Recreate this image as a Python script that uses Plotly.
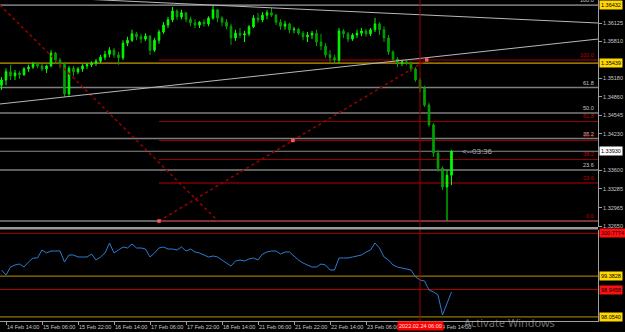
import plotly.graph_objects as go

# ---------------- data (2-hour candles, hour index from 14 Feb 14:00, trading hours only) ----------------
bar_hour = list(range(-2, 201, 2))

opens = [1.3506, 1.3515, 1.3529, 1.3522, 1.3527, 1.3524, 1.3534, 1.3537, 1.3542, 1.3539,
         1.3534, 1.3539, 1.3561, 1.3549, 1.3542, 1.3491, 1.3535, 1.3529, 1.3534, 1.3539,
         1.3541, 1.3544, 1.3547, 1.3554, 1.3559, 1.3566, 1.3558, 1.3553, 1.3578, 1.3583,
         1.3594, 1.3589, 1.3585, 1.3590, 1.3566, 1.3583, 1.3597, 1.3609, 1.3618, 1.3633,
         1.3623, 1.3630, 1.3619, 1.3613, 1.3609, 1.3614, 1.3611, 1.3621, 1.3635, 1.3621,
         1.3614, 1.3607, 1.3587, 1.3595, 1.3592, 1.3594, 1.3606, 1.3621, 1.3618, 1.3626,
         1.3630, 1.3626, 1.3614, 1.3607, 1.3611, 1.3601, 1.3602, 1.3595, 1.3589, 1.3592,
         1.3595, 1.3580, 1.3573, 1.3558, 1.3553, 1.3549, 1.3599, 1.3594, 1.3585, 1.3592,
         1.3595, 1.3599, 1.3594, 1.3601, 1.3611, 1.3601, 1.3587, 1.3563, 1.3551, 1.3544,
         1.3546, 1.3544, 1.3534, 1.3515, 1.3501, 1.3472, 1.3438, 1.3390, 1.3364, 1.3332,
         1.3352]
highs = [1.3520, 1.3535, 1.3541, 1.3532, 1.3530, 1.3537, 1.3541, 1.3546, 1.3546, 1.3544,
         1.3541, 1.3566, 1.3563, 1.3553, 1.3546, 1.3539, 1.3539, 1.3537, 1.3542, 1.3544,
         1.3547, 1.3551, 1.3558, 1.3565, 1.3571, 1.3570, 1.3563, 1.3583, 1.3589, 1.3601,
         1.3597, 1.3594, 1.3595, 1.3592, 1.3587, 1.3601, 1.3614, 1.3623, 1.3640, 1.3636,
         1.3635, 1.3631, 1.3623, 1.3619, 1.3616, 1.3619, 1.3624, 1.3642, 1.3636, 1.3624,
         1.3619, 1.3611, 1.3601, 1.3604, 1.3599, 1.3609, 1.3626, 1.3630, 1.3631, 1.3635,
         1.3638, 1.3628, 1.3619, 1.3616, 1.3613, 1.3606, 1.3604, 1.3599, 1.3597, 1.3599,
         1.3601, 1.3594, 1.3578, 1.3566, 1.3558, 1.3604, 1.3602, 1.3597, 1.3595, 1.3601,
         1.3604, 1.3602, 1.3604, 1.3621, 1.3614, 1.3607, 1.3592, 1.3566, 1.3554, 1.3549,
         1.3549, 1.3547, 1.3537, 1.3518, 1.3505, 1.3476, 1.3441, 1.3395, 1.3367, 1.3361,
         1.3395]
lows = [1.3498, 1.3506, 1.3515, 1.3515, 1.3517, 1.3522, 1.3529, 1.3534, 1.3535, 1.3530,
        1.3527, 1.3537, 1.3542, 1.3535, 1.3486, 1.3488, 1.3522, 1.3525, 1.3529, 1.3534,
        1.3537, 1.3539, 1.3544, 1.3549, 1.3554, 1.3553, 1.3541, 1.3549, 1.3573, 1.3580,
        1.3583, 1.3578, 1.3582, 1.3558, 1.3563, 1.3577, 1.3594, 1.3604, 1.3614, 1.3618,
        1.3619, 1.3614, 1.3607, 1.3604, 1.3604, 1.3606, 1.3607, 1.3618, 1.3614, 1.3607,
        1.3602, 1.3575, 1.3582, 1.3587, 1.3580, 1.3590, 1.3604, 1.3613, 1.3614, 1.3619,
        1.3623, 1.3609, 1.3601, 1.3601, 1.3595, 1.3595, 1.3592, 1.3583, 1.3580, 1.3585,
        1.3573, 1.3566, 1.3553, 1.3546, 1.3542, 1.3544, 1.3587, 1.3580, 1.3582, 1.3587,
        1.3590, 1.3589, 1.3590, 1.3597, 1.3592, 1.3580, 1.3558, 1.3546, 1.3537, 1.3539,
        1.3541, 1.3529, 1.3512, 1.3494, 1.3469, 1.3435, 1.3383, 1.3358, 1.3327, 1.3274,
        1.3335]
closes = [1.3515, 1.3529, 1.3522, 1.3527, 1.3524, 1.3534, 1.3537, 1.3542, 1.3539, 1.3534,
          1.3539, 1.3561, 1.3549, 1.3542, 1.3491, 1.3535, 1.3529, 1.3534, 1.3539, 1.3541,
          1.3544, 1.3547, 1.3554, 1.3559, 1.3566, 1.3558, 1.3553, 1.3578, 1.3583, 1.3594,
          1.3589, 1.3585, 1.3590, 1.3566, 1.3583, 1.3597, 1.3609, 1.3618, 1.3633, 1.3623,
          1.3630, 1.3619, 1.3613, 1.3609, 1.3614, 1.3611, 1.3621, 1.3635, 1.3621, 1.3614,
          1.3607, 1.3587, 1.3595, 1.3592, 1.3594, 1.3606, 1.3621, 1.3618, 1.3626, 1.3630,
          1.3626, 1.3614, 1.3607, 1.3611, 1.3601, 1.3602, 1.3595, 1.3589, 1.3592, 1.3595,
          1.3580, 1.3573, 1.3558, 1.3553, 1.3549, 1.3599, 1.3594, 1.3585, 1.3592, 1.3595,
          1.3599, 1.3594, 1.3601, 1.3611, 1.3601, 1.3587, 1.3563, 1.3551, 1.3544, 1.3546,
          1.3544, 1.3534, 1.3515, 1.3501, 1.3472, 1.3438, 1.3390, 1.3364, 1.3332, 1.3352,
          1.3393]
indicator = [99.582, 99.419, 99.679, 99.745, 99.777, 99.679, 99.842, 99.973, 99.973, 100.233,
             100.136, 100.201, 100.201, 100.201, 99.842, 100.070, 100.070, 100.005, 100.005, 100.005,
             100.103, 99.907, 100.005, 100.136, 100.461, 100.136, 100.233, 100.331, 100.299, 100.429,
             100.299, 100.299, 100.266, 100.005, 100.136, 100.299, 100.331, 100.266, 100.266, 100.233,
             100.331, 100.201, 100.266, 100.168, 100.136, 100.070, 100.005, 100.038, 100.005, 99.907,
             99.810, 99.712, 99.875, 99.907, 99.875, 99.940, 99.973, 99.907, 100.103, 100.168,
             100.201, 100.201, 100.103, 100.168, 100.168, 100.038, 99.907, 99.810, 99.745, 99.679,
             99.679, 99.777, 99.745, 99.582, 99.582, 99.973, 99.973, 99.973, 100.005, 100.038,
             100.070, 100.168, 100.233, 100.461, 100.299, 100.005, 99.907, 99.745, 99.679, 99.647,
             99.614, 99.582, 99.354, 99.256, 99.224, 98.931, 98.866, 98.768, 98.117, 98.508,
             98.866]

price_ticks = [1.36125, 1.35810, 1.35180, 1.34860, 1.34545, 1.34230, 1.33600, 1.33285, 1.32965, 1.32650]
tick_hours = [0, 16, 32, 48, 64, 80, 96, 112, 128, 144, 160, 176, 192]
tick_text = ["14 Feb 14:00", "15 Feb 06:00", "15 Feb 22:00", "16 Feb 14:00", "17 Feb 06:00",
             "17 Feb 22:00", "18 Feb 14:00", "21 Feb 06:00", "21 Feb 22:00", "22 Feb 14:00",
             "23 Feb 06:00", "23 Feb 22:00", "24 Feb 14:00"]

gray_fib_100 = 1.36432
fib_0 = 1.32736
red_fib_100 = 1.35493
fib_ratios = [100.0, 61.8, 50.0, 38.2, 23.6, 0.0]
red_fib_start = 68
gold_level = 1.35439
bid_price = 1.33930
crosshair_hour = 184
crosshair_label = "2022.02.24 06:00"
timer_text = "<--03:36"

upper_trend_hours = [24, 263.2]
upper_trend_prices = [1.36553, 1.36125]
lower_trend_hours = [-2.7, 263.2]
lower_trend_prices = [1.34739, 1.35851]
gray_fib_line_hours = [-2.7, 94.2]
gray_fib_line_prices = [1.36432, 1.32736]
red_fib_line_hours = [68, 187]
red_fib_line_prices = [1.32736, 1.35493]

ind_levels = [100.7774, 99.3828, 98.9458, 98.0540]
ind_colors = ["#B00000", "#C09000", "#B00000", "#C09000"]
ind_box = ["#FF1010", "#FFD800", "#FF1010", "#FFD800"]

# ---------------- layout geometry ----------------
W, H = 625, 332
PLOT_W, PLOT_H = 598, 321
FONT = "Liberation Sans, Arial, sans-serif"
PX_PER_HOUR = 2.25
HOUR0_PX = 6
x_lo = (0 - HOUR0_PX) / PX_PER_HOUR
x_hi = (PLOT_W - HOUR0_PX) / PX_PER_HOUR
PRICE_TOP = 1.36519
PRICE_PER_PX = 0.00017117
MAIN_BOTTOM_PX = 227
IND_TOP_PX = 230
IND_PER_PX = 1 / 30.7
IND_REF_VAL, IND_REF_PX = 100.7774, 233.3


def paper_y(py):
    return (PLOT_H - py) / PLOT_H


main_range = [PRICE_TOP - MAIN_BOTTOM_PX * PRICE_PER_PX, PRICE_TOP]
ind_range = [IND_REF_VAL - (PLOT_H - IND_REF_PX) * IND_PER_PX,
             IND_REF_VAL + (IND_REF_PX - IND_TOP_PX) * IND_PER_PX]

fig = go.Figure()

# fib / trend lines (behind candles)
fig.add_trace(go.Scatter(x=gray_fib_line_hours, y=gray_fib_line_prices, mode="lines",
                         line=dict(color="#9A0000", width=1.5, dash="dot"), hoverinfo="skip",
                         xaxis="x", yaxis="y"))
fig.add_trace(go.Scatter(x=red_fib_line_hours, y=red_fib_line_prices, mode="lines",
                         line=dict(color="#9A0000", width=1.5, dash="dot"), hoverinfo="skip",
                         xaxis="x", yaxis="y"))
mid_h = sum(red_fib_line_hours) / 2
mid_p = sum(red_fib_line_prices) / 2
fig.add_trace(go.Scatter(x=red_fib_line_hours[:1] + [mid_h] + red_fib_line_hours[1:],
                         y=red_fib_line_prices[:1] + [mid_p] + red_fib_line_prices[1:],
                         mode="markers", marker=dict(symbol="square", size=3.5, color="#FF5A5A"),
                         hoverinfo="skip", xaxis="x", yaxis="y"))
fig.add_trace(go.Scatter(x=upper_trend_hours, y=upper_trend_prices, mode="lines",
                         line=dict(color="#B8B8B8", width=1), hoverinfo="skip", xaxis="x", yaxis="y"))
fig.add_trace(go.Scatter(x=lower_trend_hours, y=lower_trend_prices, mode="lines",
                         line=dict(color="#B8B8B8", width=1), hoverinfo="skip", xaxis="x", yaxis="y"))

fig.add_trace(go.Candlestick(
    x=bar_hour, open=opens, high=highs, low=lows, close=closes,
    increasing=dict(line=dict(color="#00FF00", width=1), fillcolor="#00FF00"),
    decreasing=dict(line=dict(color="#00A400", width=1), fillcolor="#00A400"),
    whiskerwidth=0, hoverinfo="skip", xaxis="x", yaxis="y"))

fig.add_trace(go.Scatter(x=bar_hour, y=indicator, mode="lines",
                         line=dict(color="#2A7CD2", width=1), hoverinfo="skip",
                         xaxis="x2", yaxis="y2"))

shapes = []
annotations = []

# gray fib levels (full width)
for r in fib_ratios:
    lvl = fib_0 + (gray_fib_100 - fib_0) * r / 100
    if r in (100.0, 0.0):
        col, wd = "#C4C4C4", 1
    else:
        col, wd = "#7E7E7E", 1.6
    shapes.append(dict(type="line", xref="paper", x0=0, x1=1, yref="y", y0=lvl, y1=lvl,
                       line=dict(color=col, width=wd), layer="below"))
    if r != 0.0:
        annotations.append(dict(xref="paper", x=0.997, xanchor="right", yref="y", y=lvl,
                                yanchor="bottom", text=f"{r:.1f}", showarrow=False,
                                font=dict(size=5.5, color="#C8C8C8", family=FONT)))

# red fib levels (from anchor to right)
for r in fib_ratios:
    lvl = fib_0 + (red_fib_100 - fib_0) * r / 100
    if r == 100.0:
        col, wd = "#7A0000", 1.6
    elif r == 23.6:
        col, wd = "#5E0000", 2
    else:
        col, wd = "#980000", 1
    shapes.append(dict(type="line", xref="x", x0=red_fib_start, x1=x_hi, yref="y", y0=lvl, y1=lvl,
                       line=dict(color=col, width=wd), layer="below"))
    annotations.append(dict(xref="paper", x=0.997, xanchor="right", yref="y", y=lvl,
                            yanchor="bottom", text=f"{r:.1f}", showarrow=False,
                            font=dict(size=5.5, color="#C00000", family=FONT)))

# gold line and bid line
shapes.append(dict(type="line", xref="paper", x0=0, x1=1, yref="y", y0=gold_level, y1=gold_level,
                   line=dict(color="#C89A00", width=1.2), layer="below"))
shapes.append(dict(type="line", xref="paper", x0=0, x1=1, yref="y", y0=bid_price, y1=bid_price,
                   line=dict(color="#8A8A8A", width=1), layer="below"))

# indicator levels
for lvl, col in zip(ind_levels, ind_colors):
    shapes.append(dict(type="line", xref="paper", x0=0, x1=1, yref="y2", y0=lvl, y1=lvl,
                       line=dict(color=col, width=1), layer="below"))

# crosshair vertical
shapes.append(dict(type="line", xref="x", x0=crosshair_hour, x1=crosshair_hour, yref="paper",
                   y0=0, y1=1, line=dict(color="#A00000", width=1)))

# pane separator
shapes.append(dict(type="rect", xref="paper", x0=0, x1=1, yref="paper",
                   y0=paper_y(229.5), y1=paper_y(227), fillcolor="#9A9A9A", line=dict(width=0)))

# price boxes on the right axis
for val, bg in [(gray_fib_100, "#FFD800"), (gold_level, "#FFD800"), (bid_price, "#FFFFFF")]:
    annotations.append(dict(xref="paper", x=1, xanchor="left", xshift=1, yref="y", y=val,
                            yanchor="middle", text=f"{val:.5f}", showarrow=False, bgcolor=bg,
                            borderpad=1, font=dict(size=5.5, color="#000000", family=FONT)))
for val, bg in zip(ind_levels, ind_box):
    annotations.append(dict(xref="paper", x=1, xanchor="left", xshift=1, yref="y2", y=val,
                            yanchor="middle", text=f"{val:.4f}", showarrow=False, bgcolor=bg,
                            borderpad=1, font=dict(size=5.5, color="#000000", family=FONT)))

# crosshair date box
annotations.append(dict(xref="x", x=crosshair_hour, xanchor="center", yref="paper", y=paper_y(326),
                        yanchor="middle", text=crosshair_label, showarrow=False, bgcolor="#FF0000",
                        borderpad=1, font=dict(size=5.5, color="#FFE8E8", family=FONT)))

# timer text next to current price
annotations.append(dict(xref="x", x=(460 - HOUR0_PX) / PX_PER_HOUR, xanchor="left", yref="y",
                        y=bid_price, yanchor="middle", text=timer_text, showarrow=False,
                        font=dict(size=8, color="#A8A8A8", family=FONT)))

# windows watermark
annotations.append(dict(xref="paper", x=462 / PLOT_W, xanchor="left", yref="paper", y=paper_y(322.5),
                        yanchor="middle", text="Activate Windows", showarrow=False,
                        font=dict(size=11, color="rgba(200,200,200,0.55)", family="Noto Sans, sans-serif")))

axis_font = dict(size=5.5, color="#C8C8C8", family=FONT)
fig.update_layout(
    width=W, height=H, margin=dict(l=0, r=W - PLOT_W, t=0, b=H - PLOT_H, autoexpand=False),
    paper_bgcolor="#000000", plot_bgcolor="#000000", showlegend=False, hovermode=False,
    boxgap=0.5,
    shapes=shapes, annotations=annotations,
    xaxis=dict(domain=[0, 1], range=[x_lo, x_hi], anchor="y", showticklabels=False, showgrid=False,
               zeroline=False, rangeslider=dict(visible=False), ticks="", automargin=False),
    xaxis2=dict(domain=[0, 1], range=[x_lo, x_hi], anchor="y2", tickvals=tick_hours, ticktext=tick_text,
                ticks="outside", ticklen=3, tickcolor="#A0A0A0", ticklabelposition="outside right",
                tickangle=0, tickfont=axis_font, showline=True, linecolor="#A0A0A0", linewidth=1,
                showgrid=False, zeroline=False, automargin=False),
    yaxis=dict(domain=[paper_y(MAIN_BOTTOM_PX), 1], range=main_range, anchor="x", side="right",
               tickvals=price_ticks, ticktext=[f"{v:.5f}" for v in price_ticks], ticks="outside",
               ticklen=3, tickcolor="#A0A0A0", tickfont=axis_font, showline=True,
               linecolor="#A0A0A0", linewidth=1, showgrid=False, zeroline=False, automargin=False),
    yaxis2=dict(domain=[0, paper_y(IND_TOP_PX)], range=ind_range, anchor="x2", side="right",
                showticklabels=False, ticks="", showline=True, linecolor="#A0A0A0", linewidth=1,
                showgrid=False, zeroline=False, automargin=False),
)

fig.write_html("out.html")
